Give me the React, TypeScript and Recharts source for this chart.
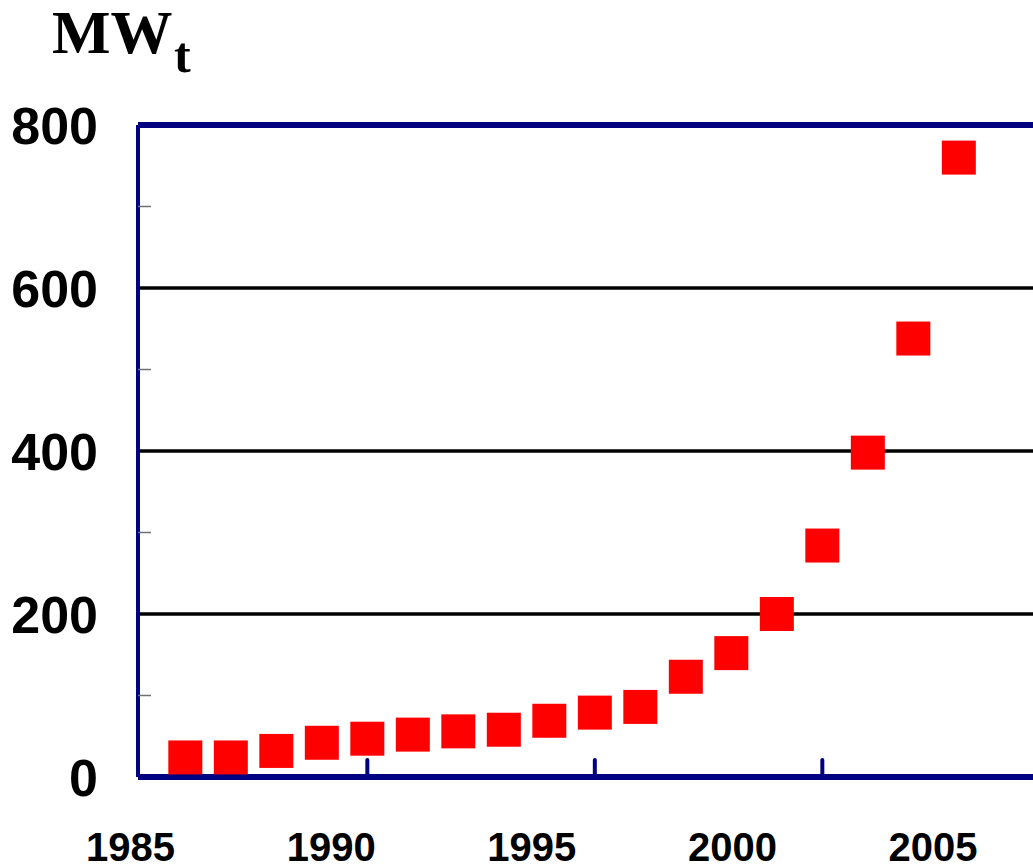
import {
  ScatterChart, Scatter, XAxis, YAxis, CartesianGrid, ReferenceLine,
} from 'recharts'

// installed capacity, MWt
const years = [1986, 1987, 1988, 1989, 1990, 1991, 1992, 1993, 1994, 1995, 1996, 1997, 1998, 1999, 2000, 2001, 2002, 2003]
const capacity = [24, 24, 32, 42, 47, 52, 56, 58, 69, 79, 86, 123, 152, 200, 284, 398, 538, 760]

const yLabels = [0, 200, 400, 600, 800]
const yMinor = [100, 300, 500, 700]
const xMajor = [1990, 1995, 2000]
const xLabels = [1985, 1990, 1995, 2000, 2005]

const NAVY = '#000080'
const RED = '#ff0000'
const SANS = "'Liberation Sans', Arial, sans-serif"
const SERIF = "'Liberation Serif', 'Times New Roman', serif"

const data = years.map((y, i) => ({ year: y, mw: capacity[i] }))
// anchors the label axis and the minor-tick axis so they get a domain
const anchors = xLabels.map(y => ({ year: y, mw: 0 }))

const Square = (props: any) => {
  const { cx, cy } = props
  return <rect x={cx - 17} y={cy - 17} width={34} height={34} fill={RED} />
}

const Empty = () => <g />

const YLabel = (props: any) => {
  const { y, payload } = props
  return (
    <text x={98} y={y + 19} textAnchor="end" fontFamily={SANS} fontWeight="bold" fontSize={52} fill="#000">
      {payload.value}
    </text>
  )
}

const XLabel = (props: any) => {
  const { x, payload } = props
  return (
    <text x={x - 7.4} y={861} textAnchor="middle" fontFamily={SANS} fontWeight="bold" fontSize={40} fill="#000">
      {payload.value}
    </text>
  )
}

export default function App() {
  return (
    <div style={{ position: 'fixed', left: 0, top: 0, width: 1033, height: 866, overflow: 'hidden', background: '#fff' }}>
      <div style={{ position: 'absolute', left: 52, top: 1, fontFamily: SERIF, fontWeight: 'bold', fontSize: 62, lineHeight: '62px', whiteSpace: 'nowrap' }}>
        MW
      </div>
      <div style={{ position: 'absolute', left: 174, top: 30, fontFamily: SERIF, fontWeight: 'bold', fontSize: 50, lineHeight: '50px' }}>
        t
      </div>
      <ScatterChart width={1060} height={866} margin={{ top: 125, right: 22, bottom: 0, left: 0 }}>
        <CartesianGrid xAxisId="data" yAxisId="val" vertical={false} stroke="#000" strokeWidth={3.5} />
        <XAxis
          xAxisId="data"
          dataKey="year"
          type="number"
          domain={[1984.96, 2004.74]}
          allowDataOverflow
          ticks={xMajor}
          interval={0}
          height={1}
          mirror
          tickSize={17}
          tick={<Empty />}
          tickLine={{ stroke: NAVY, strokeWidth: 4, strokeLinecap: 'round' }}
          axisLine={false}
        />
        <XAxis
          xAxisId="lbl"
          dataKey="year"
          type="number"
          domain={[1985, 1985 + 900 / 40.12]}
          allowDataOverflow
          ticks={xLabels}
          interval={0}
          height={89}
          axisLine={false}
          tickLine={false}
          tick={<XLabel />}
        />
        <YAxis
          yAxisId="minor"
          type="number"
          domain={[0, 800]}
          allowDataOverflow
          ticks={yMinor}
          interval={0}
          width={1}
          mirror
          tickSize={13}
          tick={<Empty />}
          axisLine={false}
          tickLine={{ stroke: '#707070', strokeWidth: 1.5 }}
        />
        <YAxis
          yAxisId="val"
          type="number"
          domain={[0, 800]}
          ticks={yLabels}
          interval={0}
          width={138}
          tickLine={false}
          axisLine={false}
          tick={<YLabel />}
        />
        <Scatter
          xAxisId="lbl"
          yAxisId="minor"
          data={anchors}
          dataKey="mw"
          shape={<Empty />}
          isAnimationActive={false}
        />
        <Scatter
          xAxisId="data"
          yAxisId="val"
          data={data}
          dataKey="mw"
          shape={<Square />}
          isAnimationActive={false}
        />
        <ReferenceLine xAxisId="data" yAxisId="val" y={800} stroke={NAVY} strokeWidth={6} />
        <ReferenceLine xAxisId="data" yAxisId="val" y={0} stroke={NAVY} strokeWidth={6} />
        <ReferenceLine xAxisId="data" yAxisId="val" x={1984.96} stroke={NAVY} strokeWidth={4} ifOverflow="visible" />
      </ScatterChart>
    </div>
  )
}
